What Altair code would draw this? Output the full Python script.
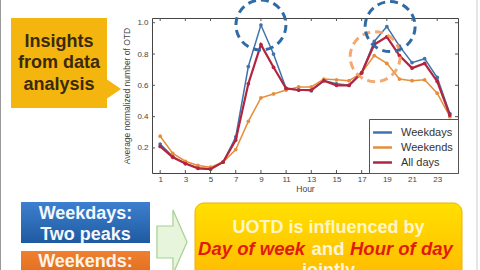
import altair as alt
import pandas as pd

# ---------------- data ----------------
hours = list(range(1, 25))
weekdays = [0.225, 0.145, 0.10, 0.072, 0.066, 0.11, 0.27, 0.72, 0.985, 0.80,
            0.58, 0.57, 0.565, 0.63, 0.61, 0.60, 0.68, 0.88, 0.975, 0.85,
            0.745, 0.77, 0.65, 0.42]
weekends = [0.275, 0.165, 0.115, 0.088, 0.077, 0.11, 0.19, 0.37, 0.52, 0.545,
            0.57, 0.59, 0.59, 0.64, 0.635, 0.63, 0.68, 0.79, 0.74, 0.64,
            0.63, 0.635, 0.55, 0.40]
all_days = [0.21, 0.14, 0.10, 0.07, 0.065, 0.11, 0.25, 0.61, 0.86, 0.715,
            0.58, 0.57, 0.57, 0.63, 0.60, 0.60, 0.68, 0.86, 0.91, 0.79,
            0.71, 0.74, 0.625, 0.41]
series_names = ["Weekdays", "Weekends", "All days"]
series_colors = ["#3f74ab", "#e58e3c", "#b3243f"]
x_ticks = [1, 3, 5, 7, 9, 11, 13, 15, 17, 19, 21, 23]
y_ticks = [0.2, 0.4, 0.6, 0.8, 1.0]

# highlighted peaks (dashed circles)
peak_hours_weekday = [9, 19.26]
peak_values_weekday = [0.985, 0.975]
peak_hours_weekend = [18.07]
peak_values_weekend = [0.783]

callout_lines = ["Insights", "from data", "analysis"]
weekday_note = ["Weekdays:", "Two peaks"]
weekend_note = ["Weekends:"]
conclusion_line1 = "UOTD is influenced by"
conclusion_parts = ["Day of week", "and", "Hour of day"]
conclusion_line3 = "jointly"

FONT = "Liberation Sans"

df = pd.DataFrame({
    "hour": hours * 3,
    "value": weekdays + weekends + all_days,
    "series": [n for n in series_names for _ in hours],
})
peaks_wd = pd.DataFrame({"hour": peak_hours_weekday, "value": peak_values_weekday})
peaks_we = pd.DataFrame({"hour": peak_hours_weekend, "value": peak_values_weekend})
xt_df = pd.DataFrame({"hour": x_ticks})
yt_df = pd.DataFrame({"value": y_ticks})

x_scale = alt.Scale(domain=[0.35, 24.65], nice=False, zero=False)
y_scale = alt.Scale(domain=[0.04, 1.03], nice=False, zero=False)

x_enc = alt.X("hour:Q", scale=x_scale,
              axis=alt.Axis(values=x_ticks, title="Hour", titlePadding=1,
                            labelPadding=2, labelOverlap=False))
y_enc = alt.Y("value:Q", scale=y_scale,
              axis=alt.Axis(values=y_ticks, format=".1f",
                            title="Average normalized number of OTD",
                            titlePadding=5, labelPadding=4,
                            labelOverlap=False))
color_enc = alt.Color(
    "series:N",
    scale=alt.Scale(domain=series_names, range=series_colors),
    sort=series_names,
    legend=alt.Legend(title=None, orient="bottom-right", offset=0, padding=5,
                      fillColor="white", strokeColor="#555",
                      symbolType="M-1.35,0L1.35,0", symbolSize=196,
                      symbolStrokeWidth=2.5, labelFontSize=11,
                      labelFont=FONT, labelColor="#333", rowPadding=1,
                      labelOffset=10, cornerRadius=0),
)


def series_layer(name, width):
    return alt.Chart(df).transform_filter(
        alt.datum.series == name
    ).mark_line(
        strokeWidth=width,
        point=alt.OverlayMarkDef(filled=True, size=14, opacity=1),
    ).encode(x=x_enc, y=y_enc, color=color_enc)


one = alt.Data(values=[{"k": 1}])


def rect(x, x2, y, y2, fill, **kw):
    return alt.Chart(one).mark_rect(fill=fill, **kw).encode(
        x=alt.value(x), x2=alt.value(x2), y=alt.value(y), y2=alt.value(y2))


def label(text, x, y, size, color, align="center", style="normal"):
    return alt.Chart(one).mark_text(
        text=text, align=align, baseline="middle", font=FONT, fontSize=size,
        fontWeight="bold", fontStyle=style, color=color,
    ).encode(x=alt.value(x), y=alt.value(y))


def shape(path, x, y, size, fill, stroke, sw):
    return alt.Chart(one).mark_point(
        shape=path, size=size, filled=True, fill=fill, stroke=stroke,
        strokeWidth=sw, opacity=1, fillOpacity=1,
    ).encode(x=alt.value(x), y=alt.value(y))


def vgrad(c1, c2):
    return alt.LinearGradient(
        gradient="linear", x1=0, x2=0, y1=0, y2=1,
        stops=[alt.GradientStop(color=c1, offset=0),
               alt.GradientStop(color=c2, offset=1)])


# inward ticks on all four sides of the frame
tick_style = dict(color="#555", strokeWidth=1)
ticks_bottom = alt.Chart(xt_df).mark_rule(**tick_style).encode(
    x=x_enc, y=alt.value(155), y2=alt.value(152))
ticks_top = alt.Chart(xt_df).mark_rule(**tick_style).encode(
    x=x_enc, y=alt.value(0), y2=alt.value(3))
ticks_left = alt.Chart(yt_df).mark_rule(**tick_style).encode(
    y=y_enc, x=alt.value(0), x2=alt.value(3))
ticks_right = alt.Chart(yt_df).mark_rule(**tick_style).encode(
    y=y_enc, x=alt.value(306), x2=alt.value(303))

# slide decorations (pixel positions relative to plot origin)
callout_box = rect(-141, -45, 0, 90, "#f5b50f")
callout_tip = shape("M-0.8,-1L0.67,0L-0.8,1Z", -39, 71, 576, "#f5b50f", "#f5b50f", 0)
callout_text = [label(t, -93, yy, 18, "#3a2a0c")
                for t, yy in zip(callout_lines, [24, 45, 67])]

blue_box = rect(-131, -2, 184, 225, vgrad("#3d80d0", "#1f5aa0"))
blue_text = [label(t, -66.5, yy, 18, "#f4f8ff")
             for t, yy in zip(weekday_note, [196, 217])]
orange_box = rect(-131, -2, 233, 262, vgrad("#f08030", "#dc6a1a"))
orange_text = [label(weekend_note[0], -66.5, 244, 18, "#fff4ea")]

arrow = shape("M-0.47,-0.5L0.03,-0.5L0.03,-1L0.47,0L0.03,1L0.03,0.5L-0.47,0.5Z",
              20, 224, 4096, "#e6f5dc", "#a6d18e", 1.2)

yellow_box = rect(43, 310, 185, 265, vgrad("#ffe000", "#ffb800"),
                  cornerRadius=9, stroke="#f0b000", strokeWidth=1)
concl_text = [
    label(conclusion_line1, 176.5, 210, 18, "#fff6c8"),
    label(conclusion_parts[0], 153, 231, 18.5, "#e01b0e", align="right", style="italic"),
    label(conclusion_parts[1], 176, 231, 18.5, "#fff6d8"),
    label(conclusion_parts[2], 198, 231, 18.5, "#e01b0e", align="left", style="italic"),
    label(conclusion_line3, 176.5, 253, 18, "#fff6d8"),
]

border_l = alt.Chart(one).mark_rule(color="#999", strokeWidth=1).encode(
    x=alt.value(-151.5), y=alt.value(-18), y2=alt.value(252))
border_r = alt.Chart(one).mark_rule(color="#ccc", strokeWidth=1).encode(
    x=alt.value(325), y=alt.value(-18), y2=alt.value(252))

circles_wd = alt.Chart(peaks_wd).mark_point(
    shape="circle", filled=False, size=2500, strokeWidth=3,
    strokeDash=[8, 5], color="#2f6ca6", opacity=1,
).encode(x=x_enc, y=y_enc)
circles_we = alt.Chart(peaks_we).mark_point(
    shape="circle", filled=False, size=2500, strokeWidth=3,
    strokeDash=[8, 5], color="#f2a060", opacity=0.9,
).encode(x=x_enc, y=y_enc)

layers = [border_l, border_r, callout_box, callout_tip, blue_box, orange_box,
          arrow, yellow_box,
          series_layer("Weekdays", 1.5), series_layer("Weekends", 1.5),
          series_layer("All days", 2.2),
          ticks_bottom, ticks_top, ticks_left, ticks_right,
          circles_we, circles_wd] + callout_text + blue_text + orange_text + concl_text

chart = alt.layer(*layers).properties(
    width=306, height=155,
    padding={"left": 152, "top": 18, "right": 22, "bottom": 97},
    autosize=alt.AutoSizeParams(type="none"),
    background="white",
).configure_view(
    stroke="#444", strokeWidth=1
).configure_axis(
    labelFont=FONT, labelFontSize=8, labelColor="#444",
    titleFont=FONT, titleFontSize=8.5, titleFontWeight="normal",
    titleColor="#444", domain=False, grid=False, ticks=False,
    labelOverlap=False,
)

chart.save("out.html", embed_options={"renderer": "svg", "actions": False})
